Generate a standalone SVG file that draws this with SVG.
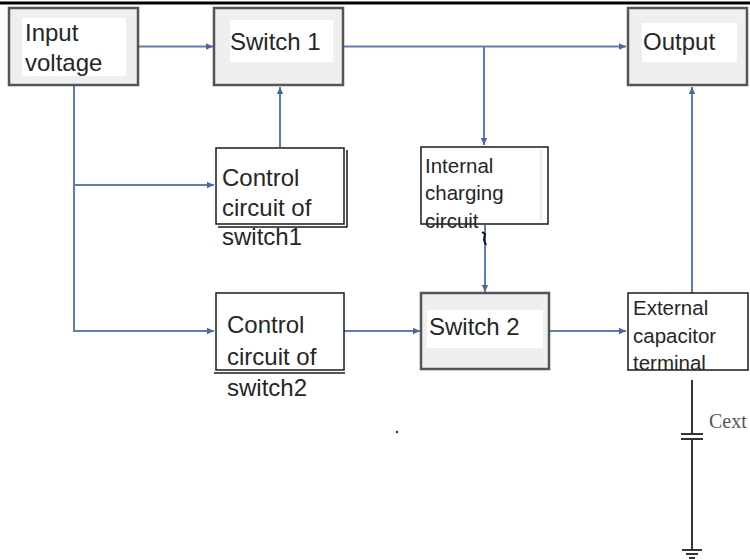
<svg xmlns="http://www.w3.org/2000/svg" width="750" height="560" viewBox="0 0 750 560">
  <defs>
    <marker id="arrow" markerWidth="8" markerHeight="8" refX="7" refY="4" orient="auto" markerUnits="userSpaceOnUse">
      <path d="M0,0.8 L7,4 L0,7.2 Z" fill="#4a66a8"/>
    </marker>
    <style>
      .frame { fill: #efefef; stroke: #555555; stroke-width: 2.5; }
      .pane { fill: #ffffff; stroke: none; }
      .plain { fill: #ffffff; stroke: #1a1a1a; stroke-width: 1.5; }
      .edge { fill: none; stroke: #1a1a1a; stroke-width: 1.5; }
      .big { font-family: "Liberation Sans", Arial, sans-serif; font-size: 24px; fill: #262626; }
      .small { font-family: "Liberation Sans", Arial, sans-serif; font-size: 20.5px; fill: #262626; }
      .wire { fill: none; stroke: #5a7dbf; stroke-width: 2; }
      .lead { fill: none; stroke: #333333; stroke-width: 2; }
      .cap { font-family: "Liberation Serif", "Times New Roman", serif; font-size: 20px; fill: #555555; }
    </style>
  </defs>

  <rect width="750" height="560" fill="#ffffff"/>
  <!-- page rule along the top -->
  <line x1="0" y1="3" x2="750" y2="3" stroke="#000000" stroke-width="3"/>

  <!-- connectors -->
  <g id="connectors">
    <line class="wire" x1="138" y1="46.5" x2="213" y2="46.5" marker-end="url(#arrow)"/>
    <line class="wire" x1="343" y1="46.5" x2="626" y2="46.5" marker-end="url(#arrow)"/>
    <polyline class="wire" points="484,46.5 484,145" marker-end="url(#arrow)"/>
    <line class="wire" x1="280" y1="147" x2="280" y2="87" marker-end="url(#arrow)"/>
    <polyline class="wire" points="74,86 74,331 214,331" marker-end="url(#arrow)"/>
    <line class="wire" x1="74" y1="185" x2="214" y2="185" marker-end="url(#arrow)"/>
    <line class="wire" x1="344" y1="331" x2="420" y2="331" marker-end="url(#arrow)"/>
    <line class="wire" x1="549" y1="331" x2="626" y2="331" marker-end="url(#arrow)"/>
    <line class="wire" x1="485" y1="225" x2="485" y2="292" marker-end="url(#arrow)"/>
    <line class="wire" x1="692" y1="293" x2="692" y2="87" marker-end="url(#arrow)"/>
    <path d="M482,232 L485,234 L484,240 L486,245" fill="none" stroke="#111111" stroke-width="2"/>
  </g>

  <!-- boxes -->
  <g id="input-voltage">
    <rect class="frame" x="9" y="8" width="129" height="77"/>
    <rect class="pane" x="22" y="18" width="104" height="58"/>
    <text class="big" x="25" y="41">Input</text>
    <text class="big" x="25" y="71">voltage</text>
  </g>

  <g id="switch-1">
    <rect class="frame" x="214" y="8" width="129" height="77"/>
    <rect class="pane" x="230" y="20" width="103" height="42"/>
    <text class="big" x="230" y="50">Switch 1</text>
  </g>

  <g id="output">
    <rect class="frame" x="628" y="8" width="119" height="77"/>
    <rect class="pane" x="642" y="23" width="95" height="39"/>
    <text class="big" x="643" y="50">Output</text>
  </g>

  <g id="control-switch1">
    <rect class="plain" x="216" y="148" width="128" height="76"/>
    <polyline class="edge" points="347,150 347,227 218,227"/>
    <text class="big" x="222" y="186">Control</text>
    <text class="big" x="222" y="216">circuit of</text>
    <text class="big" x="222" y="245">switch1</text>
  </g>

  <g id="internal-charging">
    <rect class="plain" x="421" y="147" width="127" height="77"/>
    <line x1="541" y1="150" x2="541" y2="221" stroke="#eeeeee" stroke-width="3"/>
    <text class="small" x="425" y="173">Internal</text>
    <text class="small" x="425" y="200">charging</text>
    <text class="small" x="425" y="228">circuit</text>
  </g>

  <g id="control-switch2">
    <rect class="plain" x="216" y="293" width="128" height="77"/>
    <line class="edge" x1="214" y1="373" x2="345" y2="373"/>
    <text class="big" x="227" y="333">Control</text>
    <text class="big" x="227" y="365">circuit of</text>
    <text class="big" x="227" y="396">switch2</text>
  </g>

  <g id="switch-2">
    <rect class="frame" x="421" y="293" width="128" height="76"/>
    <rect class="pane" x="427" y="310" width="116" height="38"/>
    <text class="big" x="429" y="335">Switch 2</text>
  </g>

  <g id="external-capacitor">
    <rect class="plain" x="628" y="293" width="120" height="77"/>
    <text class="small" x="633" y="315">External</text>
    <text class="small" x="633" y="343">capacitor</text>
    <text class="small" x="633" y="370">terminal</text>
  </g>

  <!-- external capacitor to ground -->
  <g id="cext">
    <line class="lead" x1="692" y1="380" x2="692" y2="434"/>
    <line class="lead" x1="681" y1="434" x2="703" y2="434"/>
    <line class="lead" x1="681" y1="439" x2="703" y2="439"/>
    <line class="lead" x1="692" y1="439" x2="692" y2="549"/>
    <line class="lead" x1="682" y1="550" x2="702" y2="550"/>
    <line class="lead" x1="686" y1="554" x2="698" y2="554"/>
    <line class="lead" x1="689" y1="558" x2="695" y2="558"/>
    <text class="cap" x="709" y="428">Cext</text>
  </g>

  <circle cx="397" cy="432" r="1.3" fill="#444444"/>
</svg>
